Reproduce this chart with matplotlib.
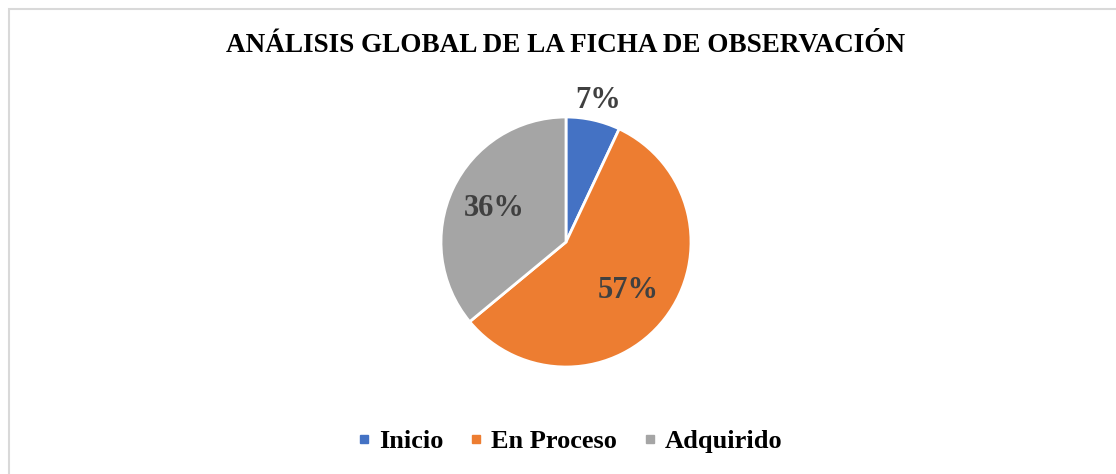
import matplotlib

matplotlib.use("Agg")
import matplotlib.pyplot as plt
from matplotlib.lines import Line2D
from matplotlib.patches import Rectangle

categories = ["Inicio", "En Proceso", "Adquirido"]
shares = [7, 57, 36]
colors = ["#4472C4", "#ED7D31", "#A5A5A5"]
title = "ANÁLISIS GLOBAL DE LA FICHA DE OBSERVACIÓN"

plt.rcParams["font.family"] = ["Liberation Serif", "DejaVu Serif"]

W, H = 1116, 474
fig = plt.figure(figsize=(W / 100, H / 100), dpi=100)

# light chart-area border (cut off at right/bottom like the source)
fig.patches.append(Rectangle((9 / W, -0.1), 1.2, 1.1 - 9 / H, transform=fig.transFigure,
                             fill=False, edgecolor="#D9D9D9", linewidth=1.5))

ax = fig.add_axes([441 / W, (H - 367) / H, 250 / W, 250 / H])
wedges, texts, autotexts = ax.pie(
    shares, colors=colors, startangle=90, counterclock=False,
    autopct="%d%%", pctdistance=0.63, radius=1.0,
    wedgeprops=dict(edgecolor="white", linewidth=2),
    textprops=dict(fontsize=22, fontweight="bold", color="#404040"),
)
# small slice label sits outside the pie
x, y = autotexts[0].get_position()
autotexts[0].set_position((x * 1.16 / 0.63, y * 1.16 / 0.63))
ax.set_xlim(-1, 1)
ax.set_ylim(-1, 1)
ax.set_aspect("equal")

fig.text(566 / W, 1 - 45 / H, title, ha="center", va="center",
         fontsize=19.5, fontweight="bold", color="black")

handles = [Line2D([], [], marker="s", linestyle="", markersize=6,
                  markerfacecolor=c, markeredgecolor=c) for c in colors]
fig.legend(handles, categories, loc="center", bbox_to_anchor=(570 / W, 1 - 441 / H),
           ncol=3, frameon=False, handletextpad=0.32, columnspacing=1.0,
           handlelength=0.5, prop=dict(size=19, weight="bold"))

fig.savefig("out.png", dpi=100)
